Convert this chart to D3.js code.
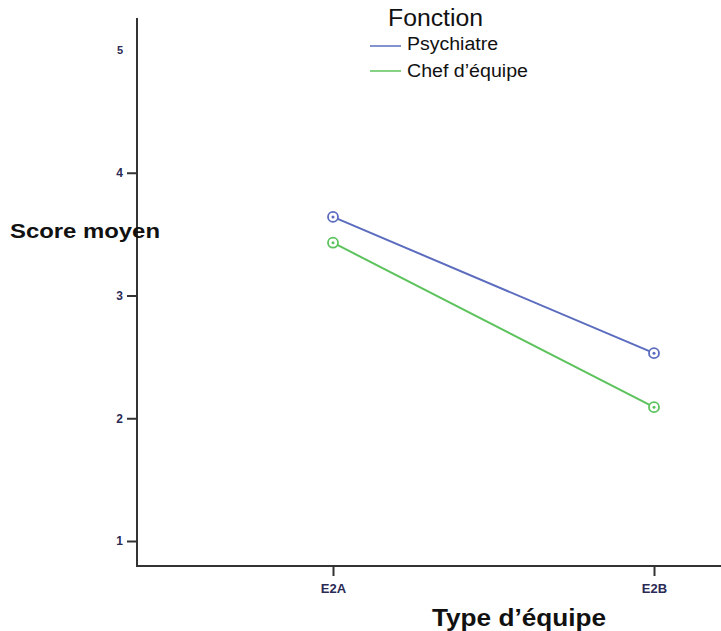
<!DOCTYPE html>
<html><head><meta charset="utf-8">
<script src="https://cdn.jsdelivr.net/npm/d3@7"></script>
<style>body{margin:0;background:#fff;} svg{display:block;}</style>
</head><body>
<svg id="c" width="721" height="631"></svg>
<script>
const categories = ["E2A", "E2B"];
const seriesNames = ["Psychiatre", "Chef d\u2019\u00e9quipe"];
const psychiatre = [3.64, 2.53];
const chefEquipe = [3.43, 2.09];
const yTicks = [1, 2, 3, 4, 5];
const colors = ["#5b6cbf", "#5cc35c"];

const svg = d3.select("#c");
const x = d3.scalePoint().domain(categories).range([333, 654]);
const y = d3.scaleLinear().domain([1, 5]).range([541, 50]);
const x0 = 137, yBase = 566;
const FF = "Liberation Sans, Arial, sans-serif";

// axes
const yAxis = d3.axisLeft(y).tickValues(yTicks.slice(0,4)).tickSize(10).tickPadding(4).tickFormat(d3.format("d"));
const gy = svg.append("g").attr("transform", `translate(${x0},0)`).call(yAxis);
gy.select(".domain").remove();
gy.selectAll("line").attr("stroke", "#333").attr("stroke-width", 2);
gy.selectAll("text").attr("font-family", FF).attr("font-size", 12).attr("font-weight", "bold").attr("fill", "#2a2a55");
svg.append("text").attr("x", x0 - 14).attr("y", y(5)).attr("dy", "0.32em").attr("text-anchor", "end")
  .attr("font-family", FF).attr("font-size", 11).attr("font-weight", "bold").attr("fill", "#2a2a55").text("5");
svg.append("line").attr("x1", x0).attr("x2", x0).attr("y1", 18).attr("y2", yBase).attr("stroke", "#333").attr("stroke-width", 2);

const xAxis = d3.axisBottom(x).tickSize(10).tickPadding(8);
const gx = svg.append("g").attr("transform", `translate(0,${yBase})`).call(xAxis);
gx.select(".domain").remove();
gx.selectAll("line").attr("stroke", "#333").attr("stroke-width", 2);
gx.selectAll("text").attr("font-family", FF).attr("font-size", 13).attr("font-weight", "bold").attr("fill", "#2a2a55");
svg.append("line").attr("x1", x0 - 1).attr("x2", 721).attr("y1", yBase).attr("y2", yBase).attr("stroke", "#333").attr("stroke-width", 2);

// titles
svg.append("text").attr("x", 10).attr("y", 238).attr("font-family", FF).attr("font-size", 21).attr("font-weight", "bold")
  .attr("fill", "#111").attr("textLength", 150).attr("lengthAdjust", "spacingAndGlyphs").text("Score moyen");
svg.append("text").attr("x", 432).attr("y", 626).attr("font-family", FF).attr("font-size", 24).attr("font-weight", "bold")
  .attr("fill", "#111").attr("textLength", 174).attr("lengthAdjust", "spacingAndGlyphs").text("Type  d\u2019\u00e9quipe");

// series
const series = [psychiatre, chefEquipe];
const line = d3.line().x((d,i) => x(categories[i])).y(d => y(d));
series.forEach((vals, k) => {
  svg.append("path").datum(vals).attr("d", line).attr("fill", "none").attr("stroke", colors[k]).attr("stroke-width", 2);
  const g = svg.append("g");
  g.selectAll("circle.o").data(vals).join("circle").attr("cx", (d,i) => x(categories[i])).attr("cy", d => y(d)).attr("r", 5)
    .attr("fill", "#fff").attr("stroke", colors[k]).attr("stroke-width", 1.8);
  g.selectAll("circle.i").data(vals).join("circle").attr("cx", (d,i) => x(categories[i])).attr("cy", d => y(d)).attr("r", 1.5)
    .attr("fill", colors[k]);
});

// legend
svg.append("text").attr("x", 388).attr("y", 26).attr("font-family", FF).attr("font-size", 23).attr("fill", "#111")
  .attr("textLength", 95).attr("lengthAdjust", "spacingAndGlyphs").text("Fonction");
const legW = [91, 121];
seriesNames.forEach((n, k) => {
  const yy = 46 + k * 25;
  svg.append("line").attr("x1", 370).attr("x2", 401).attr("y1", yy).attr("y2", yy).attr("stroke", colors[k]).attr("stroke-width", 1.5);
  svg.append("text").attr("x", 407).attr("y", yy - 2 + k * 2).attr("dy", "0.35em").attr("font-family", FF).attr("font-size", 18).attr("fill", "#111")
    .attr("textLength", legW[k]).attr("lengthAdjust", "spacingAndGlyphs").text(n);
});
</script>
</body></html>
